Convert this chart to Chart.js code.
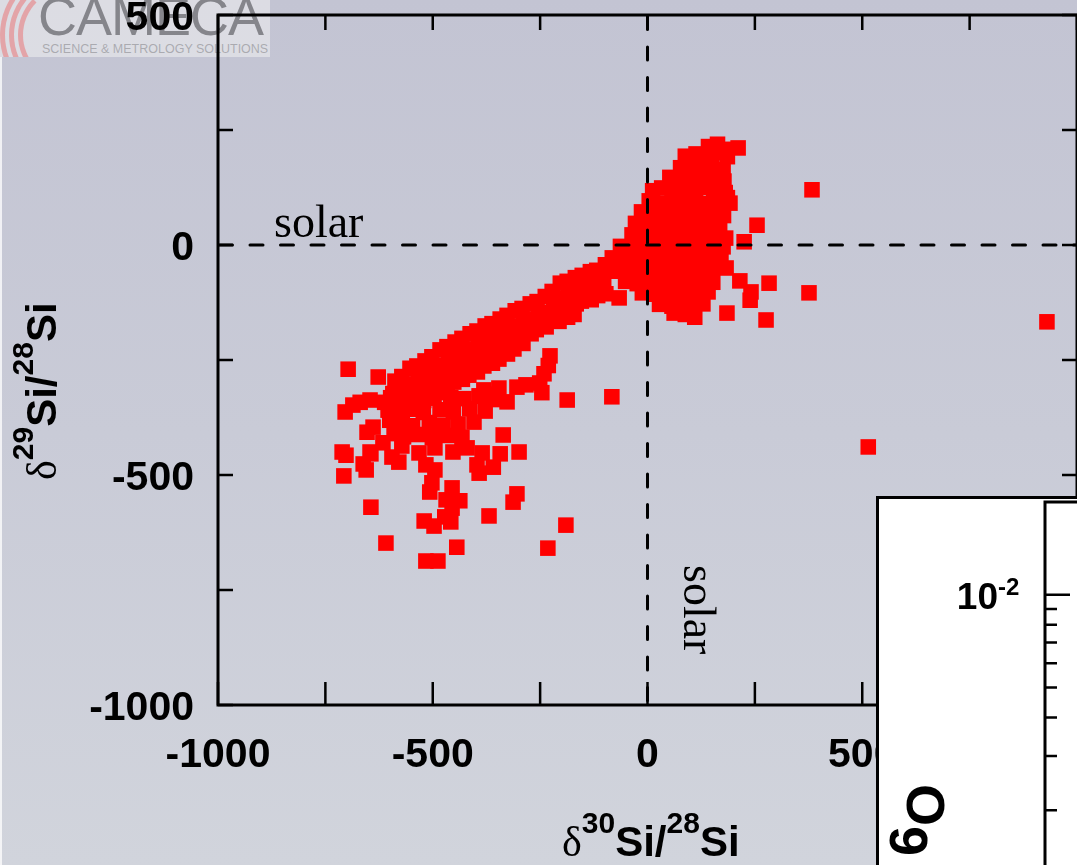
<!DOCTYPE html>
<html>
<head>
<meta charset="utf-8">
<script src="https://cdn.jsdelivr.net/npm/chart.js@4.4.1/dist/chart.umd.min.js"></script>
<style>
html,body{margin:0;padding:0;width:1077px;height:865px;overflow:hidden;}
body{position:relative;background:linear-gradient(to bottom,#c3c4d3 0%,#c9cbd7 50%,#d1d4dc 100%);}
#leftline{position:absolute;left:0;top:57px;width:2px;height:808px;background:rgba(255,255,255,0.75);}
#logo{position:absolute;left:0;top:0;width:270px;height:57px;background:rgba(236,236,238,0.6);overflow:hidden;}
#logo .arc{position:absolute;border-radius:50%;border:5px solid transparent;border-left-color:rgba(235,95,95,0.45);}
#cam{position:absolute;left:38px;top:-11px;font:54px/54px "Liberation Sans",Arial,sans-serif;color:rgba(100,100,105,0.72);white-space:nowrap;letter-spacing:-1px;}
#sci{position:absolute;left:42px;top:42px;font:12.5px/14px "Liberation Sans",Arial,sans-serif;color:rgba(120,120,125,0.5);white-space:nowrap;}
#main{position:absolute;left:0;top:0;}
.title{position:absolute;white-space:nowrap;font:bold 42px/42px "Liberation Sans",Arial,sans-serif;color:#000;}
.dl{font:normal 42px "Liberation Serif","Times New Roman",serif;line-height:0;}
.sp{font-size:30px;line-height:0;position:relative;top:-23px;}
.solar{position:absolute;white-space:nowrap;font:46px/46px "Liberation Serif","Times New Roman",serif;color:#000;}
#inset{position:absolute;left:876px;top:496px;width:320px;height:420px;box-sizing:border-box;border:3px solid #000;background:#fff;}
#insetCanvas{position:absolute;left:879px;top:499px;}
#otitle{position:absolute;left:498px;top:784px;width:400px;text-align:right;transform-origin:400px 0;transform:rotate(-90deg);font:bold 54px/54px "Liberation Sans",Arial,sans-serif;white-space:nowrap;color:#000;}
#otitle .os{position:relative;top:-17px;line-height:0;}
#otitle .gap{margin-left:14px;}
</style>
</head>
<body>
<div id="logo">
  <div class="arc" style="left:0px;top:-34px;width:128px;height:128px;"></div>
  <div class="arc" style="left:9px;top:-25px;width:110px;height:110px;"></div>
  <div class="arc" style="left:18px;top:-16px;width:92px;height:92px;"></div>
  <div id="cam">CAMECA</div>
  <div id="sci">SCIENCE &amp; METROLOGY SOLUTIONS</div>
</div>
<div id="leftline"></div>
<canvas id="main" width="1080" height="865"></canvas>
<div class="solar" style="left:274px;top:199px;">solar</div>
<div class="solar" style="left:722px;top:565px;transform-origin:0 0;transform:rotate(90deg);">solar</div>
<div class="title" style="left:21px;top:480px;transform-origin:0 0;transform:rotate(-90deg);"><span class="dl">δ</span><span class="sp">29</span>Si/<span class="sp">28</span>Si</div>
<div class="title" style="left:562px;top:821px;"><span class="dl">δ</span><span class="sp">30</span>Si/<span class="sp">28</span>Si</div>
<div id="inset"></div>
<canvas id="insetCanvas" width="230" height="420"></canvas>
<div id="otitle">δ<span class="os">17</span>O/<span class="os">1<span class="gap">6</span></span>O</div>
<script>
// ---- Data (δ30Si/28Si, δ29Si/28Si) ----
const upperCluster = [
 [142,214],[163,219],[184,208],
 [88,193],[113,198],[139,191],[166,200],[186,192],
 [77,168],[101,174],[127,166],[149,172],[176,165],
 [52,147],[73,141],[98,149],[124,143],[151,146],[178,139],
 [12,118],[33,124],[61,117],[84,122],[112,116],[133,125],[158,119],[181,114],
 [4,96],[28,91],[57,98],[79,93],[107,99],[131,90],[154,96],[173,88],
 [-14,72],[11,67],[37,73],[58,66],[86,71],[108,75],[137,68],[159,73],[177,64],
 [-28,47],[-6,42],[22,48],[44,41],[71,46],[93,43],[121,49],[146,40],[168,47],
 [-36,22],[-12,17],[16,23],[38,18],[66,21],[89,16],[117,24],[138,19],[163,21],[182,15],
 [-63,-3],[-41,-8],[-17,-2],[9,-7],[36,-4],[58,-9],[87,-3],[109,-6],[134,-1],[158,-8],[176,-4],
 [-82,-28],[-53,-33],[-31,-27],[-4,-32],[21,-29],[47,-34],[68,-26],[96,-31],[118,-28],[147,-33],[171,-27],
 [-73,-57],[-48,-52],[-27,-58],[2,-54],[24,-59],[51,-53],[77,-57],[99,-51],[126,-58],[149,-53],[183,-50],
 [-51,-79],[-24,-84],[-2,-78],[26,-82],[49,-77],[74,-85],[102,-79],[124,-83],[152,-81],
 [-12,-104],[17,-107],[38,-101],[66,-108],[91,-103],[113,-106],[141,-102],
 [28,-129],[57,-133],[81,-127],[104,-134],[129,-128],
 [62,-148],[88,-151]
];
const band = [
 [-98,-43],[-102,-74],[-97,-106],
 [-118,-55],[-121,-86],[-116,-110],
 [-133,-58],[-138,-91],[-131,-119],
 [-152,-66],[-149,-95],[-154,-122],
 [-168,-71],[-173,-99],[-166,-128],[-171,-151],
 [-187,-79],[-184,-108],[-189,-137],[-186,-157],
 [-203,-83],[-208,-116],[-201,-143],[-206,-166],
 [-222,-101],[-219,-131],[-224,-160],
 [-238,-112],[-243,-147],[-236,-178],
 [-257,-123],[-254,-152],[-259,-184],
 [-273,-128],[-278,-161],[-271,-193],
 [-292,-138],[-289,-168],[-294,-197],[-290,-214],
 [-308,-143],[-313,-176],[-306,-203],[-311,-226],
 [-327,-153],[-324,-183],[-329,-211],[-326,-237],
 [-343,-161],[-348,-188],[-341,-222],[-346,-248],
 [-362,-171],[-359,-199],[-364,-231],[-361,-257],
 [-378,-176],[-383,-207],[-376,-233],[-381,-263],
 [-397,-187],[-394,-217],[-399,-247],[-396,-276],
 [-413,-193],[-418,-226],[-411,-257],[-416,-283],
 [-432,-203],[-429,-233],[-434,-262],[-431,-292],
 [-448,-211],[-453,-238],[-446,-272],[-451,-298],
 [-467,-221],[-464,-251],[-469,-281],[-466,-309],
 [-483,-228],[-488,-262],[-481,-288],[-486,-321],
 [-502,-243],[-499,-273],[-504,-302],[-501,-333],
 [-518,-252],[-523,-278],[-516,-311],[-521,-338],
 [-537,-263],[-534,-293],[-539,-321],[-536,-352],
 [-553,-268],[-558,-302],[-551,-328],
 [-572,-286],[-569,-316],[-574,-344],[-571,-374],
 [-588,-296],[-593,-323]
];
const junction = [
 [-598,-332],[-566,-328],[-529,-333],[-497,-327],[-458,-331],[-427,-334],[-391,-329],[-356,-336],
 [-588,-362],[-553,-357],[-522,-364],[-483,-358],[-452,-363],[-414,-356],[-378,-361],
 [-579,-388],[-547,-393],[-508,-386],[-476,-392],[-441,-389],[-404,-385],
 [-568,-417],[-534,-412],[-501,-419],[-466,-414],[-432,-418]
];
const branch = [
 [-227,-241],[-231,-262],[-241,-280],[-246,-321],[-251,-300],[-283,-304],
 [-304,-309],[-327,-341],[-346,-311],[-368,-324],[-381,-315],[-392,-328]
];
const lowerBlob = [
 [-662,-476],[-655,-489],[-644,-454],[-616,-430],[-595,-461],[-579,-472],[-572,-437],
 [-532,-452],[-516,-478],[-495,-489],[-502,-517],[-507,-537],[-455,-528],[-469,-554],
 [-437,-556],[-455,-572],[-520,-600],[-497,-611],[-472,-591],[-458,-602],[-392,-496],
 [-359,-483],[-397,-478],[-385,-452],[-343,-454],[-453,-450],[-420,-441],[-495,-441],
 [-299,-450],[-336,-413]
];
const leftTail = [
 [-704,-363],[-686,-348],[-669,-342],[-646,-337],[-653,-407],[-639,-396],[-646,-450],
 [-711,-450],[-702,-457],[-707,-502],[-604,-359],[-600,-381],[-612,-342],[-590,-410],
 [-697,-270],[-627,-287]
];
const outliers = [
 [383,120],[211,211],[255,43],[225,7],[192,91],[186,103],[283,-83],[376,-104],[276,-163],
 [239,-120],[241,-102],[215,-78],[185,-148],[110,-157],[-66,-115],[930,-167],[514,-439],
 [-83,-330],[-187,-337],[-609,-648],[-516,-687],[-488,-687],[-444,-657],[-232,-659],
 [-190,-609],[-369,-589],[-313,-559],[-304,-541],[-644,-570]
];

// ---- Axes ----
const xMajorTicks = [-1000,-500,0,500,1000];
const xMinorTicks = [-750,-250,250,750];
const yMajorTicks = [-1000,-500,0,500];
const yMinorTicks = [-750,-250,250];
const xTickLabels = ['-1000','-500','0','500','1000'];
const yTickLabels = ['-1000','-500','0','500'];
const solarRef = 0;

// inset (partially visible oxygen-isotope panel)
const insetMajorTicks = [0.01];
const insetMajorLabels = [['10','-2']];
const insetMinorTicks = [0.009,0.008,0.007,0.006,0.005,0.004,0.003,0.002];

const siData = [].concat(upperCluster, band, junction, branch, lowerBlob, leftTail, outliers)
  .map(p => ({x:p[0], y:p[1]}));

const framePlugin = {
  id:'frame',
  afterDatasetsDraw(chart){
    const {ctx, chartArea:a, scales:{x, y}} = chart;
    ctx.save();
    ctx.strokeStyle = '#000';
    // dashed solar reference lines
    ctx.lineWidth = 3;
    ctx.lineCap = 'round';
    ctx.setLineDash([13, 17.5]);
    const x0 = x.getPixelForValue(solarRef), y0 = y.getPixelForValue(solarRef);
    ctx.beginPath(); ctx.moveTo(a.left+1.5, y0); ctx.lineTo(a.right, y0); ctx.stroke();
    ctx.beginPath(); ctx.moveTo(x0, a.top+1.5); ctx.lineTo(x0, a.bottom); ctx.stroke();
    ctx.setLineDash([]);
    ctx.lineCap = 'butt';
    // frame
    ctx.lineWidth = 3;
    ctx.strokeRect(a.left, a.top, a.right - a.left, a.bottom - a.top);
    // ticks (inward)
    ctx.lineWidth = 2.5;
    const xt = xMajorTicks.concat(xMinorTicks);
    const yt = yMajorTicks.concat(yMinorTicks);
    ctx.beginPath();
    xt.forEach(v => {
      const px = x.getPixelForValue(v);
      ctx.moveTo(px, a.bottom); ctx.lineTo(px, a.bottom - 23);
      ctx.moveTo(px, a.top); ctx.lineTo(px, a.top + 15);
    });
    yt.forEach(v => {
      const py = y.getPixelForValue(v);
      ctx.moveTo(a.left, py); ctx.lineTo(a.left + 15, py);
      ctx.moveTo(a.right, py); ctx.lineTo(a.right - 15, py);
    });
    ctx.stroke();
    // tick labels
    ctx.fillStyle = '#000';
    ctx.font = 'bold 41px "Liberation Sans", Arial, sans-serif';
    ctx.textBaseline = 'alphabetic';
    ctx.textAlign = 'center';
    xMajorTicks.forEach((v, i) => {
      ctx.fillText(xTickLabels[i], x.getPixelForValue(v), a.bottom + 62);
    });
    ctx.textAlign = 'right';
    yMajorTicks.forEach((v, i) => {
      ctx.fillText(yTickLabels[i], a.left - 24, y.getPixelForValue(v) + 14.5);
    });
    ctx.restore();
  }
};

new Chart(document.getElementById('main'), {
  type:'scatter',
  data:{datasets:[{
    label:'SiC grains',
    data:siData,
    pointStyle:'rect',
    pointRadius:11,
    pointHoverRadius:11,
    backgroundColor:'#ff0000',
    borderWidth:0
  }]},
  options:{
    responsive:false,
    animation:false,
    events:[],
    layout:{autoPadding:false, padding:{left:218, top:15, right:3, bottom:160}},
    plugins:{legend:{display:false}, tooltip:{enabled:false}},
    scales:{
      x:{type:'linear', min:-1000, max:1000, display:false},
      y:{type:'linear', min:-1000, max:500, display:false}
    }
  },
  plugins:[framePlugin]
});

const insetPlugin = {
  id:'insetFrame',
  afterDraw(chart){
    const {ctx, chartArea:a, scales:{y}} = chart;
    ctx.save();
    ctx.strokeStyle = '#000';
    ctx.lineWidth = 3;
    ctx.beginPath();
    ctx.moveTo(a.left, a.bottom); ctx.lineTo(a.left, a.top); ctx.lineTo(a.right, a.top);
    ctx.stroke();
    ctx.lineWidth = 2.5;
    ctx.beginPath();
    insetMajorTicks.forEach(v => { const py = y.getPixelForValue(v); ctx.moveTo(a.left, py); ctx.lineTo(a.left + 25, py); });
    insetMinorTicks.forEach(v => { const py = y.getPixelForValue(v); ctx.moveTo(a.left, py); ctx.lineTo(a.left + 12, py); });
    ctx.stroke();
    ctx.fillStyle = '#000';
    insetMajorTicks.forEach((v, i) => {
      const py = y.getPixelForValue(v);
      const [base, exp] = insetMajorLabels[i];
      ctx.font = 'bold 37px "Liberation Sans Narrow", "Liberation Sans", Arial, sans-serif';
      ctx.textAlign = 'right';
      ctx.fillText(base, a.left - 47, py + 14);
      ctx.font = 'bold 24px "Liberation Sans Narrow", "Liberation Sans", Arial, sans-serif';
      ctx.textAlign = 'left';
      ctx.fillText(exp, a.left - 47, py);
    });
    ctx.restore();
  }
};

new Chart(document.getElementById('insetCanvas'), {
  type:'scatter',
  data:{datasets:[{label:'O', data:[], pointRadius:0}]},
  options:{
    responsive:false,
    animation:false,
    events:[],
    layout:{autoPadding:false, padding:{left:166, top:3, right:0, bottom:16}},
    plugins:{legend:{display:false}, tooltip:{enabled:false}},
    scales:{
      x:{type:'linear', min:0, max:1, display:false},
      y:{type:'logarithmic', min:0.001, max:0.02, display:false}
    }
  },
  plugins:[insetPlugin]
});
</script>
</body>
</html>
